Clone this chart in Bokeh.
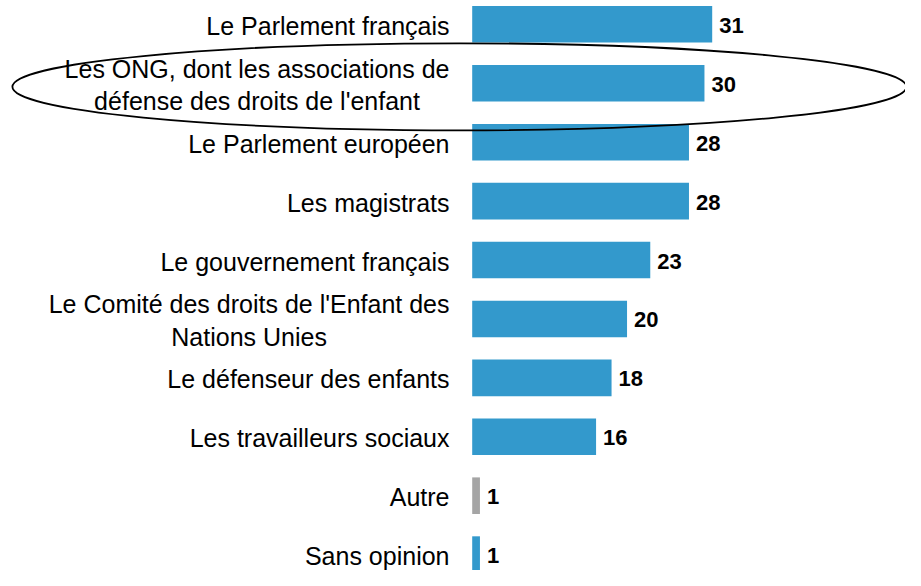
from bokeh.plotting import figure
from bokeh.models import ColumnDataSource, Range1d
from bokeh.core.properties import value
from bokeh.embed import file_html
from bokeh.resources import INLINE

categories = [
    "Le Parlement français",
    "Les ONG, dont les associations de\ndéfense des droits de l'enfant",
    "Le Parlement européen",
    "Les magistrats",
    "Le gouvernement français",
    "Le Comité des droits de l'Enfant des\nNations Unies",
    "Le défenseur des enfants",
    "Les travailleurs sociaux",
    "Autre",
    "Sans opinion",
]
values = [31, 30, 28, 28, 23, 20, 18, 16, 1, 1]
bar_colors = ["#3399CC"] * 8 + ["#A5A5A5", "#3399CC"]
highlight = "Les ONG, dont les associations de\ndéfense des droits de l'enfant"

rows = list(range(len(categories)))
src = ColumnDataSource(dict(
    y=rows,
    v=values,
    cat=categories,
    lab=[str(x) for x in values],
    color=bar_colors,
))

W, H = 905, 570
origin_px = 471.7      # pixel where the value axis starts
px_per_unit = 7.742
row_px = 58.92
first_row_px = 23.83

x_start = -origin_px / px_per_unit
y_top = -first_row_px / row_px

p = figure(
    width=W, height=H,
    x_range=Range1d(x_start, x_start + W / px_per_unit),
    y_range=Range1d(y_top + H / row_px, y_top),
    output_backend="svg", toolbar_location=None,
    min_border=0, min_border_left=0, min_border_right=0,
    min_border_top=0, min_border_bottom=0,
)
p.axis.visible = False
p.grid.visible = False
p.outline_line_color = None
p.background_fill_color = "white"
p.border_fill_color = "white"

p.hbar(y="y", left=0, right="v", height=0.621, color="color", line_color=None, source=src)

p.text(
    x=0, y="y", text="cat", source=src,
    x_offset=-22.7, y_offset=1.5,
    anchor="center_right", text_align="center", text_baseline="middle",
    text_font=value("Liberation Sans"), text_font_size="25px",
    text_color="#000000", text_line_height=1.15,
)

p.text(
    x="v", y="y", text="lab", source=src,
    x_offset=7, y_offset=1,
    text_align="left", text_baseline="middle",
    text_font=value("Liberation Sans"), text_font_size="22px",
    text_font_style="bold", text_color="#000000",
)

hi = categories.index(highlight)
p.ellipse(
    x=-12.8 / px_per_unit, y=hi + 0.06,
    width=894, height=87, width_units="screen", height_units="screen",
    fill_color=None, line_color="black", line_width=1.8,
)

open("out.html", "w").write(file_html(p, INLINE))
